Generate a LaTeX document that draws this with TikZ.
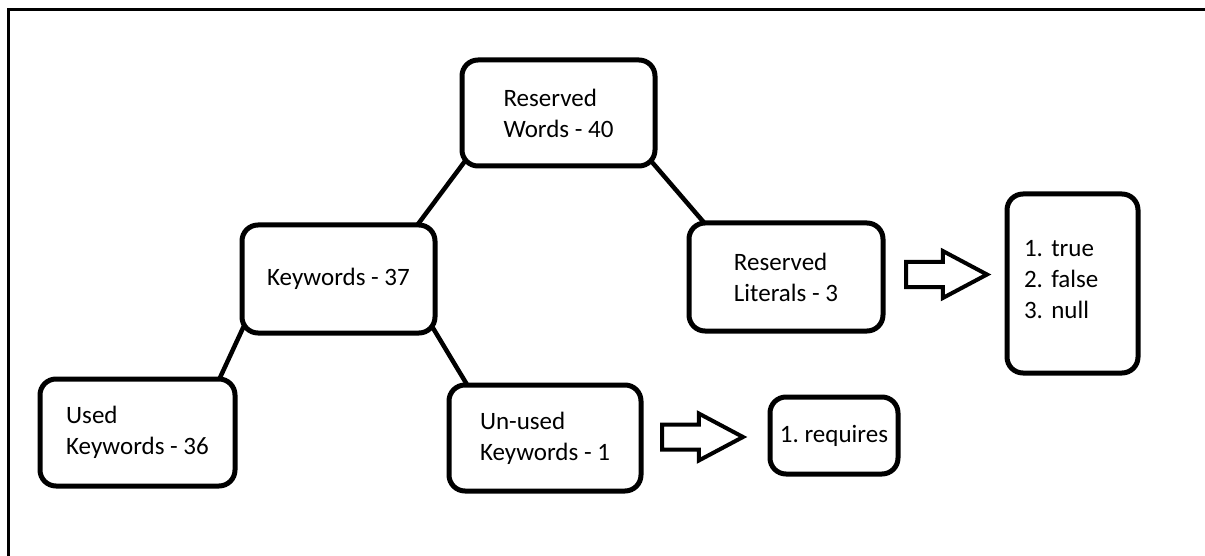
\documentclass[tikz,border=0pt]{standalone}
\usepackage{fontspec}
\setmainfont{Carlito}
\frenchspacing
\usetikzlibrary{shapes.arrows,backgrounds}

\begin{document}
\begin{tikzpicture}[x=1pt, y=1pt,
    every node/.style={font=\fontsize{25}{31}\selectfont},
    wordbox/.style={draw, line width=5pt, rounded corners=16pt, fill=white, align=left},
    link/.style={line width=4.5pt, shorten <=-6pt, shorten >=-16pt},
    fatarrow/.style={single arrow, draw, line width=4pt, fill=white, inner ysep=10.5pt,
      single arrow head extend=11pt, single arrow tip angle=56, minimum height=81pt, anchor=tail}]
  \useasboundingbox (0,0) rectangle (1205,-556);
  \draw[line width=3pt] (8,-556) -- (8,-10) -- (1205,-10);

  % boxes of the tree
  \node[wordbox, minimum width=193pt, minimum height=106pt] (rw) at (558.5,-113) {Reserved\\Words - 40};
  \node[wordbox, minimum width=193pt, minimum height=108pt] (kw) at (338.5,-279) {Keywords - 37};
  \node[wordbox, minimum width=194pt, minimum height=108pt] (rl) at (786,-277) {Reserved\\Literals - 3};
  \node[wordbox, minimum width=195pt, minimum height=107pt] (used) at (137.5,-432.5) {Used\\Keywords - 36};
  \node[wordbox, minimum width=192pt, minimum height=106pt] (unused) at (545,-438) {Un-used\\Keywords - 1};

  % lists on the right
  \node[wordbox, text width=97pt, inner xsep=17pt, minimum height=179pt] (lit) at (1072.5,-283.5) {1. true\\2. false\\3. null\\[-22pt]\mbox{}};
  \node[wordbox, minimum width=128pt, minimum height=77pt, inner xsep=4pt] (req) at (834,-435.5) {1. requires};

  \begin{scope}[on background layer]
    \draw[link] (kw.35) -- (rw.south west);
    \draw[link] (rl.146) -- (rw.south east);
    \draw[link] (used.34) -- (kw.south west);
    \draw[link] (unused.145) -- (kw.south east);
  \end{scope}

  \node[fatarrow] (arr1) at (904,-274.5) {};
  \node[fatarrow] (arr2) at (660,-437) {};
\end{tikzpicture}
\end{document}
